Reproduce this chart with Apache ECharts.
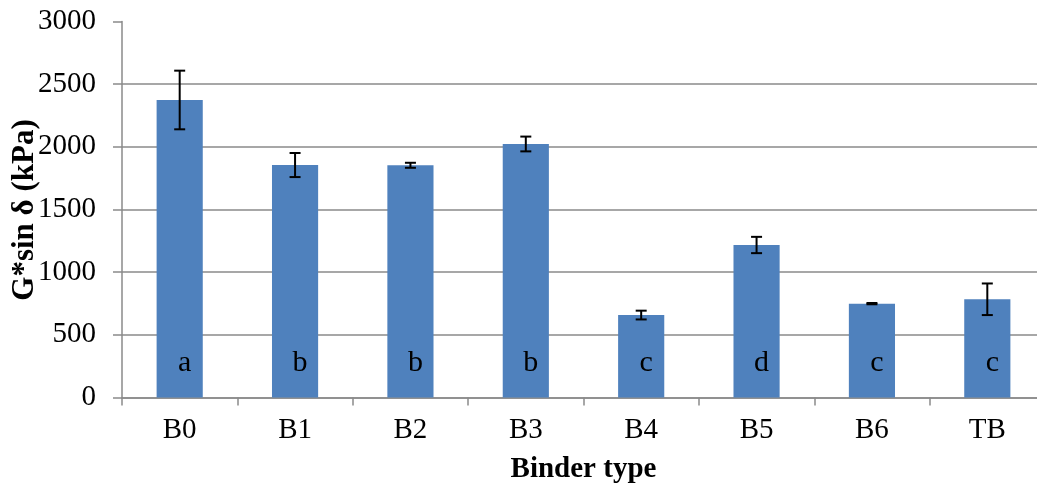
<!DOCTYPE html>
<html>
<head>
<meta charset="utf-8">
<script src="https://cdn.jsdelivr.net/npm/echarts@6/dist/echarts.min.js"></script>
<style>
html,body{margin:0;padding:0;background:#fff;}
#chart{width:1037px;height:489px;}
</style>
</head>
<body>
<div id="chart"></div>
<script>
var categories = ['B0','B1','B2','B3','B4','B5','B6','TB'];
var means = [2373, 1854, 1852, 2022, 657, 1216, 748, 783];
var errors = [234, 96, 20, 59, 35, 65, 5, 126];
var letters = ['a','b','b','b','c','d','c','c'];
var yTicks = [0, 500, 1000, 1500, 2000, 2500, 3000];
var yTitle = 'G*sin δ (kPa)';
var xTitle = 'Binder type';

var FONT = '"Liberation Serif", "Times New Roman", serif';
var GRID = '#8a8a8a';

var chart = echarts.init(document.getElementById('chart'));
chart.setOption({
  animation: false,
  backgroundColor: '#fff',
  grid: { left: 122, right: -8, top: 21.4, bottom: 91.6, containLabel: false, outerBoundsMode: 'none' },
  graphic: [
    {
      type: 'text',
      x: 25,
      y: 210,
      rotation: Math.PI / 2,
      style: {
        text: yTitle,
        fontFamily: FONT,
        fontSize: 31,
        fontWeight: 'bold',
        fill: '#000',
        align: 'center',
        verticalAlign: 'middle'
      }
    }
  ],
  xAxis: {
    type: 'category',
    data: categories,
    boundaryGap: true,
    name: xTitle,
    nameLocation: 'middle',
    nameGap: 58,
    nameTextStyle: { fontFamily: FONT, fontSize: 29, fontWeight: 'bold', color: '#000' },
    axisLine: { lineStyle: { color: GRID, width: 1.5 } },
    axisTick: { show: true, length: 8, alignWithLabel: false, lineStyle: { color: GRID, width: 1.5 } },
    axisLabel: { fontFamily: FONT, fontSize: 29, color: '#000', margin: 18 },
    splitLine: { show: false }
  },
  yAxis: {
    type: 'value',
    min: yTicks[0],
    max: yTicks[yTicks.length - 1],
    interval: yTicks[1] - yTicks[0],
    axisLine: { show: true, lineStyle: { color: GRID, width: 1.5 } },
    axisTick: { show: true, length: 9, inside: false, lineStyle: { color: GRID, width: 1.5 } },
    axisLabel: { fontFamily: FONT, fontSize: 29, color: '#000', margin: 26, formatter: function (v) { return String(v); } },
    splitLine: { show: true, lineStyle: { color: [GRID, GRID, GRID, GRID, GRID, GRID, 'rgba(0,0,0,0)'], width: 1.5 } }
  },
  series: [
    {
      type: 'bar',
      data: means,
      barWidth: '40%',
      itemStyle: { color: '#4F81BD' },
      label: {
        show: true,
        position: 'insideBottom',
        distance: 19,
        offset: [5, 0],
        formatter: function (p) { return letters[p.dataIndex]; },
        fontFamily: FONT,
        fontSize: 30,
        color: '#000'
      },
      z: 2
    },
    {
      type: 'custom',
      data: categories.map(function (c, i) { return [i, means[i], errors[i]]; }),
      encode: { x: 0, y: 1 },
      z: 5,
      renderItem: function (params, api) {
        var i = api.value(0), m = api.value(1), e = api.value(2);
        var top = api.coord([i, m + e]);
        var bot = api.coord([i, m - e]);
        var hw = 5.5;
        var style = { stroke: '#000', lineWidth: 2 };
        return {
          type: 'group',
          children: [
            { type: 'line', shape: { x1: top[0], y1: top[1], x2: bot[0], y2: bot[1] }, style: style },
            { type: 'line', shape: { x1: top[0] - hw, y1: top[1], x2: top[0] + hw, y2: top[1] }, style: style },
            { type: 'line', shape: { x1: bot[0] - hw, y1: bot[1], x2: bot[0] + hw, y2: bot[1] }, style: style }
          ]
        };
      }
    }
  ]
});
</script>
</body>
</html>
